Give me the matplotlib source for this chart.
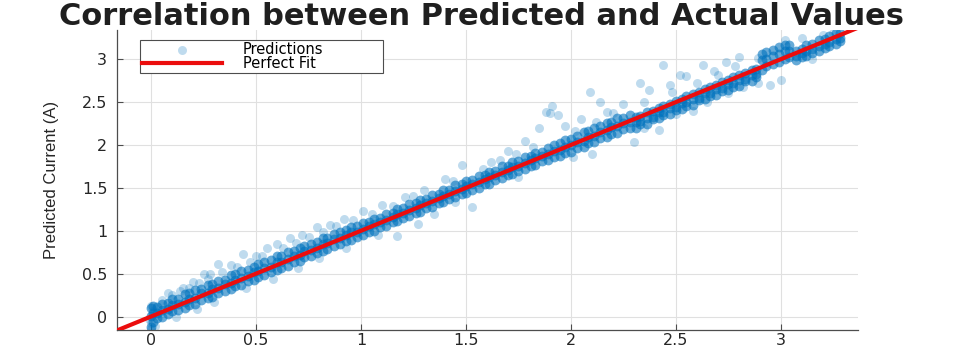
import numpy as np
import matplotlib
matplotlib.use("Agg")
import matplotlib.pyplot as plt

plt.rcParams['font.family'] = ['DejaVu Sans']

## data ##
# dense band: actual current with three predicted readings (low / mid / high)
band_actual = [
    0.00, 0.01, 0.03, 0.05, 0.08, 0.10, 0.13, 0.16, 0.18, 0.21, 0.24, 0.27, 0.29,
    0.32, 0.35, 0.38, 0.40, 0.43, 0.46, 0.49, 0.51, 0.54, 0.57, 0.60, 0.62, 0.65,
    0.68, 0.71, 0.73, 0.76, 0.79, 0.82, 0.84, 0.87, 0.90, 0.93, 0.95, 0.98,
    1.01, 1.04, 1.06, 1.09, 1.12, 1.15, 1.17, 1.20, 1.23, 1.26, 1.28, 1.31, 1.34,
    1.37, 1.39, 1.42, 1.45, 1.48, 1.50, 1.53, 1.56, 1.59, 1.61, 1.64, 1.67, 1.70,
    1.72, 1.75, 1.78, 1.81, 1.83, 1.86, 1.89,
    1.92, 1.95, 1.97, 2.00, 2.03, 2.06, 2.08, 2.11, 2.14, 2.17, 2.19, 2.22, 2.25, 2.28,
    2.31, 2.33, 2.36, 2.39, 2.42, 2.44, 2.47, 2.50, 2.53, 2.55, 2.58, 2.61, 2.64,
    2.66, 2.69, 2.72, 2.75, 2.77, 2.80, 2.83, 2.86, 2.88,
    2.91, 2.93, 2.96, 2.99, 3.02, 3.04,
    3.07, 3.10, 3.12, 3.15, 3.18, 3.21, 3.23, 3.26, 3.28]
band_pred_lo = [
    -0.12, -0.06, -0.02, 0.00, 0.03, 0.06, 0.08, 0.10, 0.14, 0.15, 0.19, 0.22, 0.23,
    0.27, 0.30, 0.32, 0.36, 0.37, 0.41, 0.43, 0.46, 0.48, 0.52, 0.54, 0.57, 0.59,
    0.63, 0.65, 0.69, 0.70, 0.74, 0.76, 0.79, 0.82, 0.84, 0.88, 0.89, 0.93,
    0.95, 0.99, 1.00, 1.04, 1.06, 1.10, 1.11, 1.15, 1.17, 1.21, 1.22, 1.26, 1.28,
    1.32, 1.33, 1.37, 1.39, 1.43, 1.44, 1.48, 1.50, 1.54, 1.55, 1.59, 1.61, 1.65,
    1.66, 1.70, 1.72, 1.76, 1.77, 1.81, 1.83,
    1.86, 1.87, 1.91, 1.92, 1.97, 1.98, 2.02, 2.03, 2.08, 2.09, 2.13, 2.14, 2.19, 2.20,
    2.20, 2.24, 2.25, 2.30, 2.31, 2.35, 2.36, 2.41, 2.42, 2.46, 2.47, 2.52, 2.53,
    2.57, 2.58, 2.63, 2.64, 2.68, 2.69, 2.74, 2.75, 2.79,
    2.87, 2.92, 2.94, 2.97, 3.00, 3.02,
    2.99, 3.02, 3.04, 3.07, 3.10, 3.13, 3.15, 3.18, 3.21]
band_pred_mid = [
    0.01, 0.04, 0.04, 0.08, 0.09, 0.13, 0.15, 0.17, 0.21, 0.22, 0.27, 0.28, 0.32,
    0.33, 0.38, 0.39, 0.43, 0.45, 0.47, 0.52, 0.53, 0.57, 0.58, 0.63, 0.64, 0.67,
    0.71, 0.72, 0.76, 0.78, 0.80, 0.85, 0.86, 0.90, 0.91, 0.95, 0.98, 0.99,
    1.02, 1.05, 1.08, 1.10, 1.13, 1.16, 1.19, 1.21, 1.24, 1.27, 1.30, 1.32, 1.35,
    1.38, 1.41, 1.43, 1.46, 1.49, 1.52, 1.54, 1.57, 1.60, 1.63, 1.65, 1.68, 1.71,
    1.74, 1.76, 1.79, 1.82, 1.85, 1.87, 1.90,
    1.93, 1.94, 1.98, 2.00, 2.04, 2.05, 2.09, 2.11, 2.15, 2.17, 2.21, 2.22, 2.26, 2.27,
    2.27, 2.28, 2.32, 2.33, 2.38, 2.39, 2.43, 2.44, 2.49, 2.50, 2.54, 2.55, 2.60,
    2.61, 2.65, 2.66, 2.71, 2.72, 2.76, 2.77, 2.82, 2.83,
    2.99, 3.00, 3.04, 3.06, 3.09, 3.10,
    3.04, 3.07, 3.09, 3.12, 3.15, 3.18, 3.20, 3.23, 3.25]
band_pred_hi = [
    0.10, 0.12, 0.11, 0.15, 0.16, 0.20, 0.21, 0.26, 0.27, 0.31, 0.32, 0.37, 0.38,
    0.42, 0.43, 0.48, 0.49, 0.53, 0.54, 0.58, 0.61, 0.63, 0.66, 0.70, 0.71, 0.75,
    0.76, 0.80, 0.82, 0.85, 0.87, 0.91, 0.92, 0.96, 0.98, 1.01, 1.04, 1.06,
    1.09, 1.10, 1.14, 1.15, 1.20, 1.21, 1.25, 1.26, 1.31, 1.32, 1.36, 1.37, 1.42,
    1.43, 1.47, 1.48, 1.53, 1.54, 1.58, 1.59, 1.64, 1.65, 1.69, 1.70, 1.75, 1.76,
    1.80, 1.81, 1.86, 1.87, 1.91, 1.92, 1.97,
    2.00, 2.02, 2.06, 2.07, 2.11, 2.15, 2.16, 2.20, 2.22, 2.26, 2.27, 2.31, 2.32, 2.35,
    2.33, 2.34, 2.38, 2.40, 2.43, 2.46, 2.48, 2.51, 2.54, 2.57, 2.59, 2.62, 2.65,
    2.68, 2.70, 2.73, 2.76, 2.79, 2.81, 2.84, 2.87, 2.89,
    3.06, 3.08, 3.11, 3.14, 3.16, 3.17,
    3.10, 3.12, 3.16, 3.18, 3.22, 3.24, 3.27, 3.30, 3.31]

# scattered (light) predictions around the band
spread_actual = [
    0.00, 0.00, 0.01, -0.01, 0.02, 0.00,
    0.08, 0.15, 0.25, 0.32, 0.44, 0.55, 0.66, 0.79, 0.92, 1.01, 0.38, 0.50, 0.60,
    0.72, 0.85, 0.20, 0.28, 0.30, 0.58, 0.70, 0.12,
    0.05, 0.10, 0.14, 0.18, 0.23, 0.27, 0.34, 0.41, 0.47, 0.53, 0.63, 0.69, 0.75,
    0.82, 0.88, 0.96, 0.22, 0.45, 0.80, 0.93,
    1.21, 1.10, 1.30, 1.40, 1.48, 1.62, 1.70, 1.78, 1.27, 1.17, 1.53, 1.35, 1.85, 1.90,
    1.05, 1.15, 1.25, 1.44, 1.58, 1.66, 1.74, 1.82, 1.08, 1.45, 1.75,
    1.88, 1.91, 1.94, 2.09, 2.14, 2.17, 2.25, 2.01, 2.10, 2.30, 2.05, 1.97,
    2.02, 2.12, 2.20,
    2.33, 2.37, 2.44, 2.52, 2.63, 2.74, 2.80, 2.89, 2.42, 2.55, 2.68, 2.47, 2.58, 2.75,
    2.35, 2.48, 2.60, 2.70, 2.78, 2.35, 2.50, 2.65, 2.82,
    2.89, 2.95, 3.00, 3.25, 3.20, 3.02, 3.10, 3.15]
spread_pred = [
    -0.14, -0.08, 0.07, -0.03, -0.11, 0.12,
    0.27, 0.33, 0.49, 0.61, 0.73, 0.80, 0.92, 1.04, 1.14, 1.23, 0.60, 0.70, 0.84,
    0.95, 1.07, 0.40, 0.50, 0.17, 0.44, 0.57, -0.01,
    0.19, 0.25, 0.30, 0.33, 0.39, 0.44, 0.52, 0.58, 0.64, 0.71, 0.80, 0.86, 0.93,
    0.99, 1.05, 1.12, 0.09, 0.33, 0.68, 0.80,
    1.39, 1.30, 1.47, 1.60, 1.77, 1.80, 1.93, 2.05, 1.08, 0.94, 1.28, 1.20, 2.20, 2.37,
    1.20, 1.29, 1.40, 1.58, 1.72, 1.82, 1.90, 1.98, 0.95, 1.33, 1.63,
    2.38, 2.46, 2.35, 2.62, 2.50, 2.38, 2.48, 1.86, 1.89, 2.03, 2.30, 2.22,
    2.16, 2.27, 2.37,
    2.72, 2.64, 2.93, 2.82, 2.93, 2.97, 3.03, 3.01, 2.17, 2.80, 2.86, 2.70, 2.40, 2.60,
    2.50, 2.62, 2.72, 2.82, 2.92, 2.20, 2.36, 2.50, 2.68,
    2.72, 2.70, 2.76, 3.31, 3.28, 3.22, 3.25, 3.00]

fit_line = [-0.2, 3.4]
x_ticks = [0, 0.5, 1, 1.5, 2, 2.5, 3]
y_ticks = [0, 0.5, 1, 1.5, 2, 2.5, 3]
tick_labels = ['0', '0.5', '1', '1.5', '2', '2.5', '3']
#############################

azul = (0.0, 0.447, 0.741)

fig = plt.figure(figsize=(9.63, 3.47), dpi=100)
ax = fig.add_axes([0.1215, 0.049, 0.7695, 0.8645])

# banda densa
for pred in (band_pred_lo, band_pred_mid, band_pred_hi):
    ax.scatter(band_actual, pred, s=50, color=azul, alpha=0.6, linewidths=0, zorder=2)
# puntos sueltos
ax.scatter(spread_actual, spread_pred, s=42, color=azul, alpha=0.25, linewidths=0,
           zorder=2, label='Predictions')
ax.plot(fit_line, fit_line, color=(0.92, 0.05, 0.05), lw=3, label='Perfect Fit', zorder=3)

ax.set_xlim(-0.162, 3.367)
ax.set_ylim(-0.157, 3.34)
ax.set_xticks(x_ticks)
ax.set_xticklabels(tick_labels)
ax.set_yticks(y_ticks)
ax.set_yticklabels(tick_labels)
ax.grid(True, color='0.88', lw=0.8)
ax.set_axisbelow(True)
for s in ('top', 'right'):
    ax.spines[s].set_visible(False)
for s in ('left', 'bottom'):
    ax.spines[s].set_color('0.3')
    ax.spines[s].set_linewidth(0.9)
ax.tick_params(direction='in', length=4, color='0.3', labelcolor='0.15',
               labelsize=11.5)
ax.tick_params(axis='x', pad=2)
ax.tick_params(axis='y', pad=7)

ax.set_ylabel('Predicted Current (A)', fontsize=12, color='0.15',
              family='Liberation Sans')
ax.yaxis.set_label_coords(-0.078, 0.5)

leg = ax.legend(loc='upper left', bbox_to_anchor=(0.031, 0.0, 0.328, 0.967),
                mode='expand', borderaxespad=0, fontsize=10.5, handlelength=5.5,
                handletextpad=1.4, labelspacing=-0.1, borderpad=0.15,
                fancybox=False, framealpha=1, edgecolor='0.3')
leg.get_frame().set_linewidth(0.8)

fig.text(0.5, 0.952, 'Correlation between Predicted and Actual Values',
         ha='center', va='center', fontsize=22, fontweight='bold', color='0.12')

fig.savefig('out.png', dpi=100)
